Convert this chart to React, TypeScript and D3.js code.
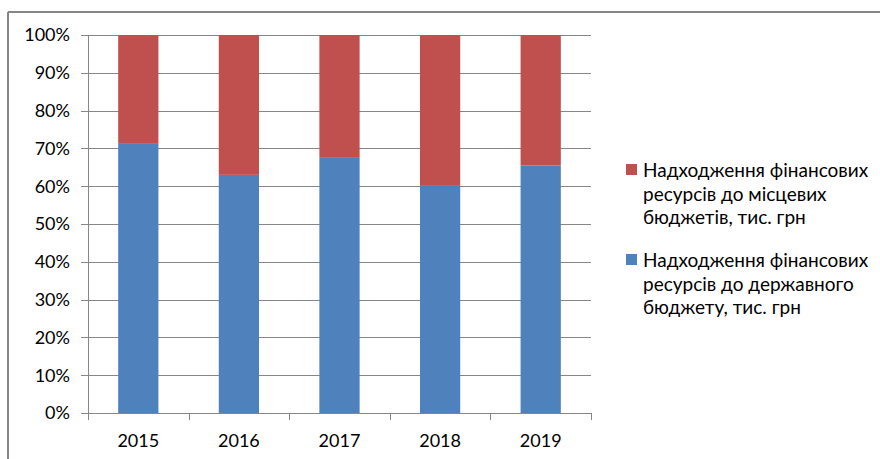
import React from "react";
import * as d3 from "d3";

const categories = ["2015", "2016", "2017", "2018", "2019"];
const stateShare = [71.4, 63.0, 67.5, 60.3, 65.5];
const yTicks = [0, 10, 20, 30, 40, 50, 60, 70, 80, 90, 100];
const legendLocal = ["Надходження фінансових", "ресурсів до місцевих", "бюджетів, тис. грн"];
const legendState = ["Надходження фінансових", "ресурсів до державного", "бюджету, тис. грн"];

const RED = "#C0504D";
const BLUE = "#4F81BD";
const FONT = "Lato, 'Noto Sans', sans-serif";

export default function App() {
  const W = 880, H = 459;
  const left = 88, right = 591, top = 35, bottom = 413;
  const x = d3.scaleBand<string>().domain(categories).range([left, right]).paddingInner(0.6).paddingOuter(0.3);
  const y = d3.scaleLinear().domain([0, 100]).range([bottom, top]);
  const step = x.step();

  return (
    <svg width={W} height={H} style={{ position: "absolute", left: 0, top: 0, background: "#fff" }}>
      <rect x={0} y={0} width={W} height={H} fill="#fff" />
      {/* frame */}
      <line x1={8} y1={12} x2={W} y2={12} stroke="#868686" strokeWidth={2} />
      <line x1={8} y1={12} x2={8} y2={H} stroke="#868686" strokeWidth={2} />
      {/* gridlines */}
      {yTicks.map((t) => (
        <g key={t}>
          <line x1={81} x2={right} y1={Math.round(y(t)) + 0.5} y2={Math.round(y(t)) + 0.5} stroke="#868686" strokeWidth={1} />
          <text x={70} y={y(t)} dy="0.35em" textAnchor="end" fontFamily={FONT} fontSize={18} fill="#000">
            {t}%
          </text>
        </g>
      ))}
      {/* y axis */}
      <line x1={left + 0.5} x2={left + 0.5} y1={top} y2={bottom} stroke="#868686" strokeWidth={1} />
      {/* x ticks */}
      {d3.range(categories.length + 1).map((i) => (
        <line key={i} x1={Math.round(left + i * step) + 0.5} x2={Math.round(left + i * step) + 0.5} y1={bottom} y2={bottom + 7} stroke="#868686" strokeWidth={1} />
      ))}
      {/* bars */}
      {categories.map((c, i) => (
        <g key={c}>
          <rect x={x(c)} y={y(stateShare[i])} width={x.bandwidth()} height={y(0) - y(stateShare[i])} fill={BLUE} />
          <rect x={x(c)} y={y(100)} width={x.bandwidth()} height={y(stateShare[i]) - y(100)} fill={RED} />
          <text x={(x(c) as number) + x.bandwidth() / 2} y={447} textAnchor="middle" fontFamily={FONT} fontSize={18} fill="#000">
            {c}
          </text>
        </g>
      ))}
      {/* legend */}
      <rect x={626} y={164} width={11} height={11} fill={RED} />
      {legendLocal.map((l, i) => (
        <text key={"l" + i} x={643} y={177 + i * 23.5} fontFamily={FONT} fontSize={19} fill="#000">
          {l}
        </text>
      ))}
      <rect x={626} y={254} width={11} height={11} fill={BLUE} />
      {legendState.map((l, i) => (
        <text key={"s" + i} x={643} y={267 + i * 23.5} fontFamily={FONT} fontSize={19} fill="#000">
          {l}
        </text>
      ))}
    </svg>
  );
}
